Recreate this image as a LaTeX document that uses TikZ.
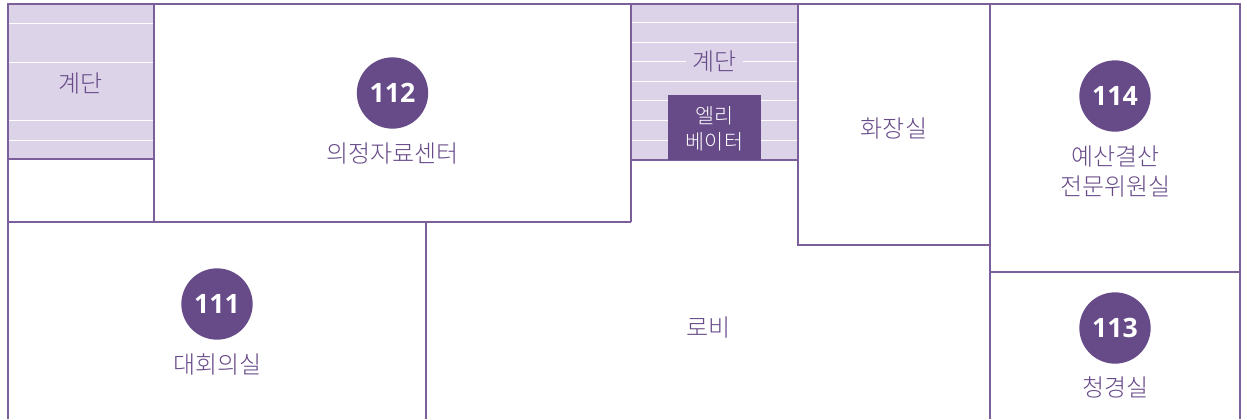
\documentclass[tikz,border=0pt]{standalone}
\usepackage{fontspec}
\setmainfont{Noto Sans CJK KR Light}
\newfontfamily\numfont{Open Sans}
\definecolor{lineP}{HTML}{7A5F9A}
\definecolor{deepP}{HTML}{674A88}
\definecolor{paleP}{HTML}{DCD3E8}
\tikzset{
 x=0.75pt,y=-0.75pt,
 wall/.style={draw=lineP,line width=0.95pt},
 stairfill/.style={fill=paleP,draw=none},
 tread/.style={draw=white,line width=0.75pt},
 room/.style={text=deepP,font=\fontsize{18}{22.5}\selectfont,align=center,inner sep=0pt},
 badge/.style={circle,fill=deepP,minimum size=53.5pt,inner sep=0pt,text=white,font=\numfont\bfseries\fontsize{20}{24}\selectfont},
 lift/.style={fill=deepP,minimum width=70pt,minimum height=49pt,inner sep=0pt},
 lifttext/.style={text=white,align=center,inner sep=0pt,font=\fontsize{15.5}{19.8}\selectfont},
}
\begin{document}
\begin{tikzpicture}
\useasboundingbox (0,0) rectangle (1247,419);
\fill[white] (0,0) rectangle (1247,419);
\fill[stairfill] (8,4) rectangle (154,159);
\fill[stairfill] (631,4) rectangle (798,160);
\foreach \y in {23,62,120,140} \draw[tread] (9,\y) -- (153,\y);
\foreach \y in {22,42,81,100,120,140} \draw[tread] (632,\y) -- (797,\y);
\draw[tread] (632,61) -- (686,61);
\draw[tread] (743,61) -- (797,61);
\draw[wall] (8,419) -- (8,4) -- (1240,4) -- (1240,419);
\draw[wall] (8,159) -- (154,159);
\draw[wall] (154,4) -- (154,222);
\draw[wall] (8,222) -- (631,222);
\draw[wall] (631,4) -- (631,222);
\draw[wall] (631,160) -- (798,160);
\draw[wall] (798,4) -- (798,245) -- (990,245);
\draw[wall] (990,4) -- (990,419);
\draw[wall] (990,272) -- (1240,272);
\draw[wall] (426,222) -- (426,419);
\node[lift] (elev) at (714.5,127.5) {};
\node[lifttext] (elevtext) at (714.5,128.5) {엘리\\베이터};
\node[room] (stairA) at (81,83.5) {계단};
\node[room] (stairB) at (714.5,61.5) {계단};
\node[badge] (r112) at (392.5,93) {112};
\node[room] (n112) at (392.5,153.5) {의정자료센터};
\node[room] (wc) at (894,128.5) {화장실};
\node[badge] (r114) at (1115,96) {114};
\node[room] (n114) at (1115.5,171.5) {예산결산\\전문위원실};
\node[badge] (r111) at (217,304) {111};
\node[room] (n111) at (217.5,364.5) {대회의실};
\node[room] (lobby) at (708.5,327.5) {로비};
\node[badge] (r113) at (1115,328) {113};
\node[room] (n113) at (1115.5,387.5) {청경실};
\end{tikzpicture}
\end{document}
